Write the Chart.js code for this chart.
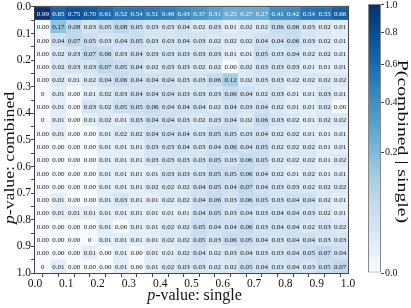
<!DOCTYPE html>
<html>
<head>
<meta charset="utf-8">
<script src="https://cdn.jsdelivr.net/npm/chart.js@4.4.1/dist/chart.umd.min.js"></script>
<style>
  html, body { margin: 0; padding: 0; background: #fff; }
  #wrap { position: relative; width: 411px; height: 308px; }
  #heat { position: absolute; left: 0; top: 0; }
  #bar { position: absolute; left: 355px; top: 0; }
</style>
</head>
<body>
<div id="wrap">
  <canvas id="heat" width="411" height="308"></canvas>
  <canvas id="bar" width="56" height="308"></canvas>
</div>
<script>
// bins of the p-value axes (left edge of each bin)
const binStart = [0, 0.05, 0.1, 0.15, 0.2, 0.25, 0.3, 0.35, 0.4, 0.45,
                  0.5, 0.55, 0.6, 0.65, 0.7, 0.75, 0.8, 0.85, 0.9, 0.95];
const binWidth = 0.05;
const axisTicks = ["0.0", "0.1", "0.2", "0.3", "0.4", "0.5", "0.6", "0.7", "0.8", "0.9", "1.0"];
const colorbarTicks = [0, 0.2, 0.4, 0.6, 0.8, 1.0];

// P(combined | single): one row per combined bin, one column per single bin
const cellValues = [
  [0.99, 0.65, 0.75, 0.70, 0.61, 0.52, 0.54, 0.51, 0.48, 0.43, 0.37, 0.31, 0.25, 0.27, 0.27, 0.41, 0.42, 0.54, 0.55, 0.66],
  [0.00, 0.17, 0.08, 0.03, 0.05, 0.08, 0.05, 0.03, 0.03, 0.04, 0.02, 0.03, 0.01, 0.02, 0.02, 0.06, 0.06, 0.03, 0.02, 0.01],
  [0.00, 0.04, 0.07, 0.05, 0.03, 0.04, 0.05, 0.03, 0.03, 0.04, 0.03, 0.02, 0.02, 0.02, 0.04, 0.04, 0.06, 0.03, 0.02, 0.01],
  [0.00, 0.02, 0.03, 0.07, 0.06, 0.03, 0.04, 0.03, 0.03, 0.03, 0.03, 0.03, 0.01, 0.01, 0.05, 0.03, 0.04, 0.02, 0.02, 0.01],
  [0.00, 0.02, 0.03, 0.03, 0.07, 0.05, 0.04, 0.02, 0.03, 0.03, 0.02, 0.02, 0.00, 0.02, 0.03, 0.03, 0.03, 0.01, 0.01, 0.01],
  [0.00, 0.02, 0.01, 0.02, 0.04, 0.06, 0.04, 0.04, 0.04, 0.03, 0.03, 0.06, 0.12, 0.02, 0.03, 0.03, 0.02, 0.02, 0.02, 0.02],
  [0,    0.01, 0.00, 0.01, 0.02, 0.03, 0.04, 0.04, 0.04, 0.03, 0.03, 0.03, 0.06, 0.04, 0.02, 0.03, 0.01, 0.01, 0.03, 0.01],
  [0.00, 0.01, 0.00, 0.03, 0.02, 0.05, 0.05, 0.06, 0.04, 0.04, 0.04, 0.02, 0.04, 0.03, 0.04, 0.02, 0.01, 0.01, 0.02, 0.00],
  [0,    0.01, 0.00, 0.01, 0.02, 0.01, 0.03, 0.04, 0.04, 0.03, 0.02, 0.03, 0.04, 0.02, 0.06, 0.03, 0.02, 0.01, 0.02, 0.02],
  [0.00, 0.01, 0.00, 0.00, 0.01, 0.02, 0.02, 0.04, 0.04, 0.04, 0.03, 0.05, 0.05, 0.03, 0.04, 0.02, 0.02, 0.01, 0.01, 0.01],
  [0.00, 0.00, 0.00, 0.00, 0.01, 0.01, 0.01, 0.03, 0.03, 0.04, 0.03, 0.04, 0.06, 0.04, 0.05, 0.02, 0.02, 0.02, 0.01, 0.01],
  [0.00, 0.00, 0.00, 0.00, 0.01, 0.01, 0.01, 0.03, 0.03, 0.03, 0.03, 0.05, 0.03, 0.06, 0.05, 0.02, 0.02, 0.02, 0.01, 0.02],
  [0.00, 0.00, 0.00, 0.00, 0.01, 0.01, 0.01, 0.01, 0.03, 0.03, 0.03, 0.05, 0.05, 0.06, 0.04, 0.02, 0.01, 0.02, 0.01, 0.01],
  [0.00, 0.00, 0.00, 0.00, 0.01, 0.01, 0.01, 0.02, 0.02, 0.02, 0.04, 0.05, 0.04, 0.07, 0.04, 0.03, 0.03, 0.02, 0.02, 0.02],
  [0.00, 0.01, 0.00, 0.00, 0.01, 0.03, 0.01, 0.01, 0.02, 0.02, 0.04, 0.06, 0.03, 0.06, 0.05, 0.03, 0.04, 0.04, 0.02, 0.01],
  [0.00, 0.01, 0.01, 0.01, 0.01, 0.01, 0.01, 0.01, 0.01, 0.01, 0.04, 0.05, 0.03, 0.04, 0.03, 0.04, 0.04, 0.03, 0.02, 0.01],
  [0.00, 0.00, 0.00, 0.00, 0.01, 0.00, 0.01, 0.01, 0.02, 0.02, 0.05, 0.04, 0.04, 0.06, 0.03, 0.04, 0.04, 0.02, 0.03, 0.02],
  [0.00, 0.00, 0.00, 0,    0.01, 0.01, 0.01, 0.01, 0.02, 0.02, 0.05, 0.03, 0.06, 0.05, 0.04, 0.03, 0.04, 0.04, 0.03, 0.03],
  [0.00, 0.00, 0.00, 0.01, 0.00, 0.01, 0.00, 0.01, 0.01, 0.02, 0.04, 0.02, 0.03, 0.04, 0.03, 0.03, 0.04, 0.05, 0.07, 0.04],
  [0,    0.01, 0.00, 0.00, 0.00, 0.01, 0.00, 0.01, 0.02, 0.03, 0.03, 0.02, 0.02, 0.05, 0.04, 0.03, 0.04, 0.03, 0.05, 0.07],
];
// cells printed as a bare "0" (exact zero) instead of "0.00" : [row, col]
const exactZeros = [[6, 0], [8, 0], [17, 3], [19, 0]];

const FONT = '"Liberation Serif", "DejaVu Serif", serif';
const bluesStops = ["#f7fbff", "#deebf7", "#c6dbef", "#9ecae1", "#6baed6", "#4292c6", "#2171b5", "#08519c", "#08306b"];

function hexToRgb(h) {
  return [parseInt(h.slice(1, 3), 16), parseInt(h.slice(3, 5), 16), parseInt(h.slice(5, 7), 16)];
}

// matplotlib "Blues", t in [0, 1]
function blues(t) {
  t = Math.min(1, Math.max(0, t));
  const pos = t * (bluesStops.length - 1);
  const i = Math.min(bluesStops.length - 2, Math.floor(pos));
  const f = pos - i;
  const a = hexToRgb(bluesStops[i]);
  const b = hexToRgb(bluesStops[i + 1]);
  const c = a.map((v, k) => Math.round(v + (b[k] - v) * f));
  return `rgb(${c[0]}, ${c[1]}, ${c[2]})`;
}

// colour scale is a power norm with gamma 0.5
const norm = (v) => Math.sqrt(v);

const cells = [];
cellValues.forEach((row, r) => {
  row.forEach((v, c) => {
    cells.push({
      x: binStart[c] + binWidth / 2,
      y: [binStart[r], binStart[r] + binWidth],
      v,
      zero: exactZeros.some(([zr, zc]) => zr === r && zc === c),
    });
  });
});

// stretch > 1 widens the text along its own direction
function drawTitle(ctx, x, y, rot, size, italicPart, rest, stretch = 1) {
  ctx.save();
  ctx.translate(x, y);
  ctx.rotate(rot);
  ctx.scale(stretch, 1);
  ctx.fillStyle = "#111";
  ctx.textBaseline = "middle";
  ctx.textAlign = "left";
  ctx.font = `italic ${size}px ${FONT}`;
  const w1 = ctx.measureText(italicPart).width;
  ctx.font = `${size}px ${FONT}`;
  const w2 = ctx.measureText(rest).width;
  const x0 = -(w1 + w2) / 2;
  ctx.font = `italic ${size}px ${FONT}`;
  ctx.fillText(italicPart, x0, 0);
  ctx.font = `${size}px ${FONT}`;
  ctx.fillText(rest, x0 + w1, 0);
  ctx.restore();
}

const cellText = {
  id: "cellText",
  afterDatasetsDraw(chart) {
    const ctx = chart.ctx;
    const meta = chart.getDatasetMeta(0);
    const data = chart.data.datasets[0].data;
    ctx.save();
    ctx.font = `7px ${FONT}`;
    ctx.textAlign = "center";
    ctx.textBaseline = "middle";
    meta.data.forEach((el, i) => {
      const d = data[i];
      ctx.fillStyle = d.v > 0.2 ? "#ffffff" : "#111111";
      ctx.fillText(d.zero ? "0" : d.v.toFixed(2), el.x, (el.y + el.base) / 2 + 0.5);
    });
    ctx.restore();
  },
};

const frameAndTitles = {
  id: "frameAndTitles",
  afterDraw(chart) {
    const ctx = chart.ctx;
    const { left, right, top, bottom } = chart.chartArea;
    ctx.save();
    ctx.strokeStyle = "#444";
    ctx.lineWidth = 1;
    ctx.strokeRect(left - 0.5, top - 0.5, right - left + 1, bottom - top + 1);
    ctx.restore();
    drawTitle(ctx, (left + right) / 2 + 3, 296, 0, 16, "p", "-value: single");
    drawTitle(ctx, 10, (top + bottom) / 2 + 18, -Math.PI / 2, 15, "p", "-value: combined", 1.18);
  },
};

// label only every 0.1, minor ticks every 0.05
const tickLabel = (value) => {
  const k = Math.round(value * 20);
  return k % 2 === 0 ? axisTicks[k / 2] : "";
};

new Chart(document.getElementById("heat"), {
  type: "bar",
  data: {
    datasets: [
      {
        data: cells,
        backgroundColor: (c) => (c.raw ? blues(norm(c.raw.v)) : "#fff"),
        borderWidth: 0,
        barPercentage: 1,
        categoryPercentage: 1,
      },
    ],
  },
  options: {
    responsive: false,
    animation: false,
    layout: { padding: { top: 4, right: 63, left: 0, bottom: 0 } },
    plugins: { legend: { display: false }, tooltip: { enabled: false } },
    scales: {
      x: {
        type: "linear",
        min: 0,
        max: 1,
        offset: false,
        afterFit: (s) => { s.height = 35; },
        ticks: {
          stepSize: 0.05,
          autoSkip: false,
          maxRotation: 0,
          padding: 0,
          color: "#111",
          font: { family: FONT, size: 11.5 },
          callback: tickLabel,
        },
        grid: { drawOnChartArea: false, tickLength: 4, tickColor: "#444" },
        border: { display: false },
      },
      y: {
        type: "linear",
        min: 0,
        max: 1,
        reverse: true,
        afterFit: (s) => { s.width = 35; },
        ticks: {
          stepSize: 0.05,
          autoSkip: false,
          padding: 0,
          color: "#111",
          font: { family: FONT, size: 11.5 },
          callback: tickLabel,
        },
        grid: { drawOnChartArea: false, tickLength: 4, tickColor: "#444" },
        border: { display: false },
      },
    },
  },
  plugins: [cellText, frameAndTitles],
});

// colour bar: tick labels and title drawn next to the library's y scale
const colorbarText = {
  id: "colorbarText",
  afterDraw(chart) {
    const ctx = chart.ctx;
    const scale = chart.scales.y;
    const { top, bottom, right } = chart.chartArea;
    ctx.save();
    ctx.fillStyle = "#111";
    ctx.font = `10px ${FONT}`;
    ctx.textAlign = "left";
    ctx.textBaseline = "middle";
    colorbarTicks.forEach((v) => {
      ctx.fillText(v.toFixed(1), right + 4, Math.max(scale.getPixelForValue(norm(v)), top + 1.5));
    });
    ctx.restore();
    drawTitle(ctx, 47, (top + bottom) / 2 + 3, Math.PI / 2, 15, "", "P(combined | single)", 1.32);
  },
};

new Chart(document.getElementById("bar"), {
  type: "bar",
  data: {
    labels: [""],
    datasets: [
      {
        data: [[0, 1]],
        backgroundColor: (c) => {
          const area = c.chart.chartArea;
          if (!area) return bluesStops[4];
          const g = c.chart.ctx.createLinearGradient(0, area.bottom, 0, area.top);
          bluesStops.forEach((col, i) => g.addColorStop(i / (bluesStops.length - 1), col));
          return g;
        },
        borderColor: "#888",
        borderWidth: 1,
        borderSkipped: false,
        inflateAmount: 0,
        barPercentage: 1,
        categoryPercentage: 1,
      },
    ],
  },
  options: {
    responsive: false,
    animation: false,
    layout: { padding: { top: 4, right: 0, left: 13, bottom: 35 } },
    plugins: { legend: { display: false }, tooltip: { enabled: false } },
    scales: {
      x: { display: false },
      y: {
        position: "right",
        min: 0,
        max: 1,
        afterFit: (s) => { s.width = 30; },
        afterBuildTicks: (s) => { s.ticks = colorbarTicks.map((v) => ({ value: norm(v) })); },
        ticks: { display: false },
        grid: { drawOnChartArea: false, tickLength: 3, tickColor: "#444" },
        border: { display: false },
      },
    },
  },
  plugins: [colorbarText],
});
</script>
</body>
</html>
